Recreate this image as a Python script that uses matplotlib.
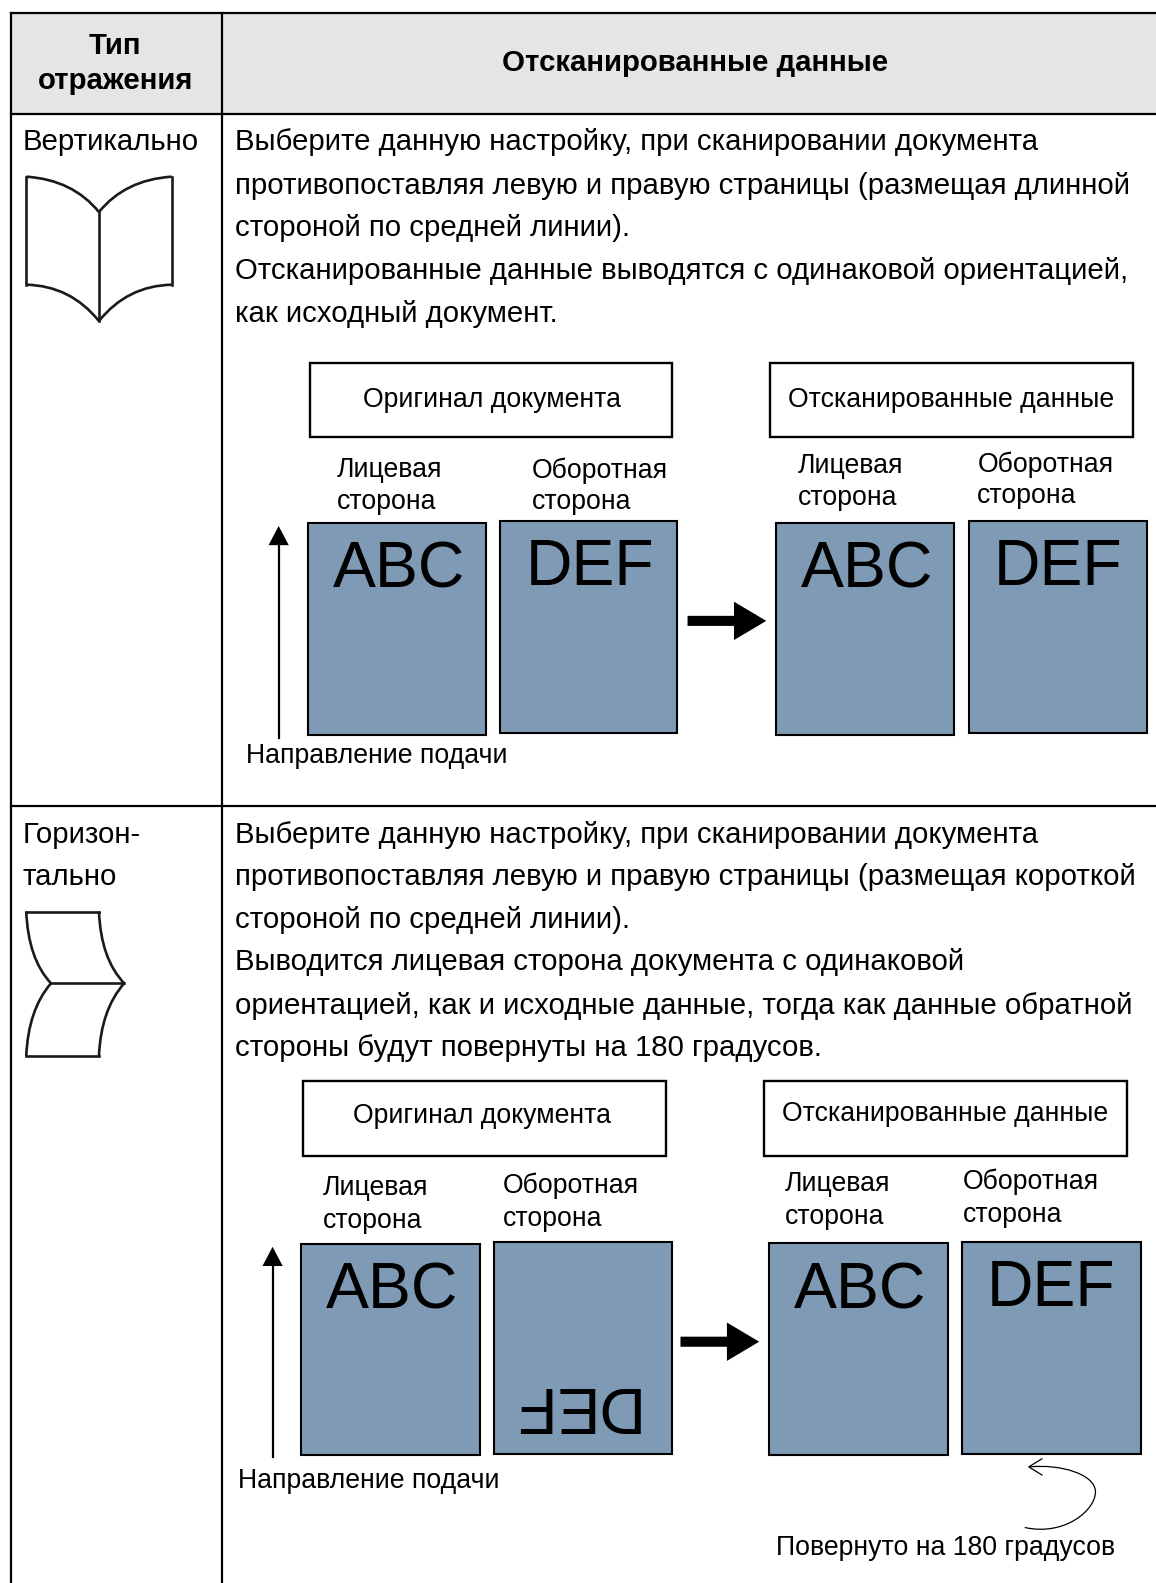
import matplotlib
matplotlib.use("Agg")
import matplotlib.pyplot as plt
from matplotlib.patches import Rectangle, PathPatch, Polygon
from matplotlib.path import Path

plt.rcParams['font.family'] = ['Liberation Sans', 'DejaVu Sans']

BODY_X = 233
body_1 = ["Выберите данную настройку, при сканировании документа",
          "противопоставляя левую и правую страницы (размещая длинной",
          "стороной по средней линии).",
          "Отсканированные данные выводятся с одинаковой ориентацией,",
          "как исходный документ."]
body_1_y = [139, 182, 224, 266, 309]
body_2 = ["Выберите данную настройку, при сканировании документа",
          "противопоставляя левую и правую страницы (размещая короткой",
          "стороной по средней линии).",
          "Выводится лицевая сторона документа с одинаковой",
          "ориентацией, как и исходные данные, тогда как данные обратной",
          "стороны будут повернуты на 180 градусов."]
body_2_y = [825, 867, 909, 951, 994, 1036]
side = [("Вертикально", 139), ("Горизон-", 825), ("тально", 867)]
captions = [(307, 666, 360, 433, "Оригинал документа", 487, 394),
            (763, 1122, 360, 433, "Отсканированные данные", 942, 394),
            (300, 660, 1071, 1145, "Оригинал документа", 477, 1103),
            (757, 1116, 1071, 1145, "Отсканированные данные", 936, 1101)]
face_labels = [("Лицевая", 334, 464), ("сторона", 334, 495),
               ("Оборотная", 527, 464), ("сторона", 527, 495),
               ("Лицевая", 790, 460), ("сторона", 790, 491),
               ("Оборотная", 968, 458), ("сторона", 968, 489),
               ("Лицевая", 320, 1175), ("сторона", 320, 1207),
               ("Оборотная", 498, 1173), ("сторона", 498, 1205),
               ("Лицевая", 777, 1171), ("сторона", 777, 1203),
               ("Оборотная", 954, 1169), ("сторона", 954, 1201)]
pages = [(305, 518, 481, 728, "ABC", 395, 565, 0),
         (495, 516, 671, 726, "DEF", 584, 563, 0),
         (769, 518, 945, 728, "ABC", 859, 565, 0),
         (960, 516, 1136, 726, "DEF", 1048, 563, 0),
         (298, 1232, 475, 1441, "ABC", 388, 1279, 0),
         (489, 1230, 666, 1440, "DEF", 566, 1391, 180),
         (762, 1231, 939, 1441, "ABC", 852, 1279, 0),
         (953, 1230, 1130, 1440, "DEF", 1041, 1277, 0)]
feed = [(276, 731, 521, 244, 747), (270, 1443, 1235, 236, 1465)]
big_arrows = [(681, 615), (674, 1329)]

PAGE = "#7F9AB5"
HEAD = "#E5E5E5"
DY = 2
BODY_FS = 21.15
SMALL_FS = 19.2

fig = plt.figure(figsize=(11.56, 15.83), dpi=100)
ax = fig.add_axes([0, 0, 1, 1])
ax.set_xlim(0, 1145)
ax.set_ylim(1568, 0)
ax.axis("off")

# table
ax.add_patch(Rectangle((11, 13), 1134, 100, fc=HEAD, ec="none"))
LW = 1.6
ax.plot([11, 1145], [13, 13], color="k", lw=LW)
ax.plot([11, 1145], [113, 113], color="k", lw=LW)
ax.plot([11, 1145], [798, 798], color="k", lw=LW)
ax.plot([11, 11], [13, 1568], color="k", lw=LW)
ax.plot([220, 220], [13, 1568], color="k", lw=LW)

ax.text(114, 44 + DY, "Тип", ha="center", va="center", fontsize=BODY_FS, fontweight="bold")
ax.text(114, 78 + DY, "отражения", ha="center", va="center", fontsize=BODY_FS, fontweight="bold")
ax.text(688, 60 + DY, "Отсканированные данные", ha="center", va="center", fontsize=BODY_FS, fontweight="bold")

for line_text, y in zip(body_1, body_1_y):
    ax.text(BODY_X, y + DY, line_text, va="center", fontsize=BODY_FS)
for line_text, y in zip(body_2, body_2_y):
    ax.text(BODY_X, y + DY, line_text, va="center", fontsize=BODY_FS)
for line_text, y in side:
    ax.text(22.5, y + DY, line_text, va="center", fontsize=BODY_FS)

for x0, x1, y0, y1, label, tx, ty in captions:
    ax.add_patch(Rectangle((x0, y0), x1 - x0, y1 - y0, fc="white", ec="k", lw=1.7))
    ax.text(tx, ty + DY, label, ha="center", va="center", fontsize=SMALL_FS)
for label, x, y in face_labels:
    ax.text(x, y + DY, label, va="center", fontsize=SMALL_FS)
for x0, y0, x1, y1, label, tx, ty, rot in pages:
    ax.add_patch(Rectangle((x0, y0), x1 - x0, y1 - y0, fc=PAGE, ec="k", lw=1.5))
    ax.text(tx, ty, label, ha="center", va="center", fontsize=46.4, rotation=rot)

# feed direction arrows
for x, y0, tip, tx, ty in feed:
    ax.plot([x, x], [y0, tip + 18], color="k", lw=1.6)
    ax.add_patch(Polygon([(x, tip), (x - 10, tip + 19), (x + 10, tip + 19)], fc="k", ec="none"))
    ax.text(tx, ty + DY, "Направление подачи", va="center", fontsize=SMALL_FS)

# large arrows
for x, y in big_arrows:
    ax.add_patch(Polygon([(x, y - 5), (x + 46, y - 5), (x + 46, y - 19), (x + 78, y),
                          (x + 46, y + 19), (x + 46, y + 5), (x, y + 5)], fc="k", ec="none"))

# rotation mark
ax.add_patch(PathPatch(Path([(1015, 1513), (1055, 1522), (1086, 1495), (1085, 1477),
                             (1084, 1460), (1050, 1450), (1020, 1453)],
                            [Path.MOVETO, Path.CURVE4, Path.CURVE4, Path.CURVE4,
                             Path.CURVE4, Path.CURVE4, Path.CURVE4]),
                       fc="none", ec="k", lw=0.9))
ax.plot([1032, 1019, 1032], [1445, 1453, 1461], color="k", lw=0.9)
ax.text(769, 1531 + DY, "Повернуто на 180 градусов", va="center", fontsize=SMALL_FS)

# book icons
Q = Path.CURVE3
ICON = "#1a1a1a"
ICON_LW = 1.9
def curve(p0, c, p1):
    ax.add_patch(PathPatch(Path([p0, c, p1], [Path.MOVETO, Q, Q]), fc="none", ec=ICON, lw=ICON_LW))
def line(p0, p1):
    ax.plot([p0[0], p1[0]], [p0[1], p1[1]], color=ICON, lw=ICON_LW)

curve((26, 175), (72, 178), (98, 210))
curve((170, 175), (124, 178), (98, 210))
curve((26, 282), (70, 283), (98, 318))
curve((170, 282), (126, 283), (98, 318))
line((26, 175), (26, 282))
line((170, 175), (170, 282))
line((98, 210), (98, 318))

curve((26, 903), (28, 950), (50.5, 974))
curve((98, 903), (100, 950), (123, 974))
curve((50.5, 974), (28, 1000), (26, 1046))
curve((123, 974), (100, 1000), (98, 1046))
line((26, 903), (98, 903))
line((26, 1046), (98, 1046))
line((50.5, 974), (123, 974))

fig.savefig("out.png", dpi=100, facecolor="white")
